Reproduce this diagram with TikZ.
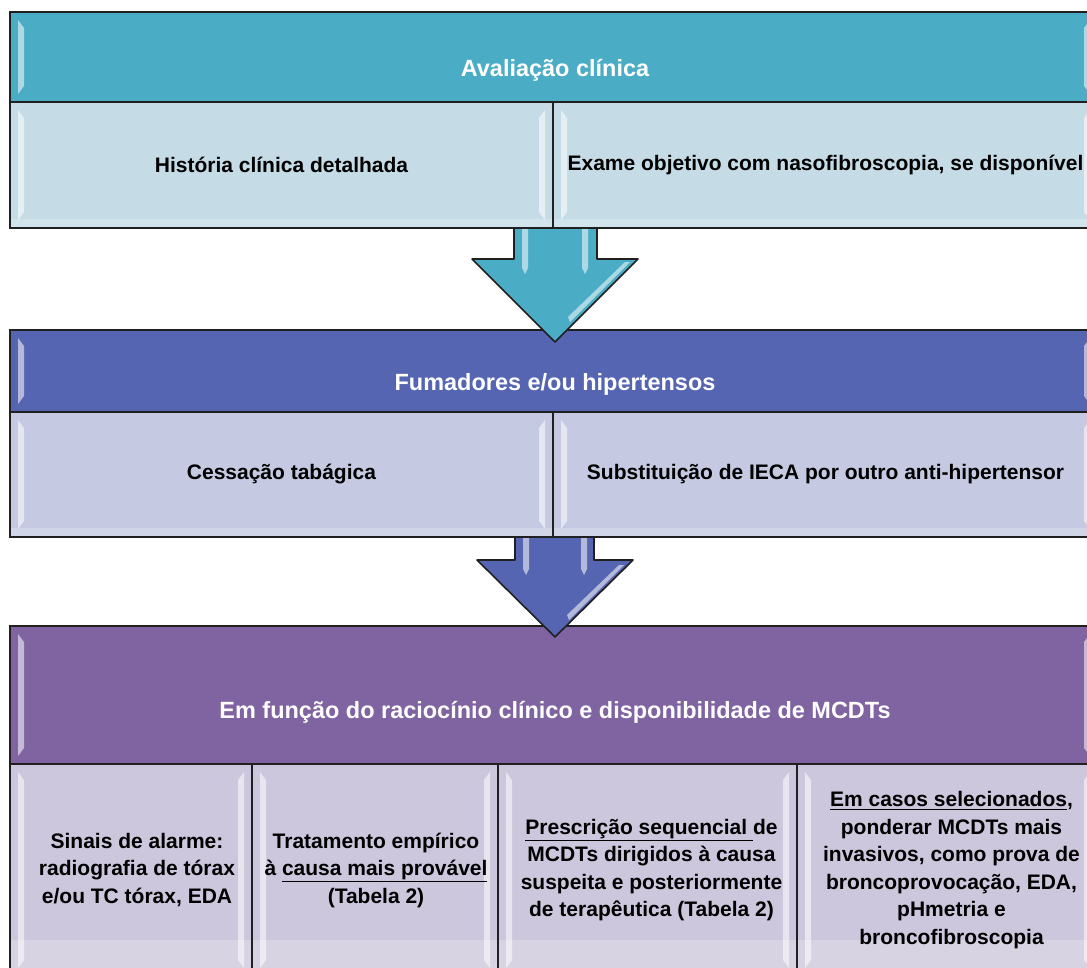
\documentclass[tikz,border=0pt]{standalone}
\usepackage{fontspec}
\setmainfont{Liberation Sans}
\usetikzlibrary{fit,calc}
\definecolor{hdrA}{HTML}{4BACC6}
\definecolor{bodyA}{HTML}{C5DCE6}
\definecolor{hdrB}{HTML}{5665B1}
\definecolor{bodyB}{HTML}{C5CAE2}
\definecolor{hdrC}{HTML}{8064A2}
\definecolor{bodyC}{HTML}{CCC7DC}
\definecolor{edge}{HTML}{202020}
% bevel strips: x1 y1 x2 y2 (pixel values, y downward)
\newcommand\bevstrips[4]{%
  \fill[shine] ({#1+8},{-(#2+8)}) -- ({#1+14},{-(#2+16)}) -- ({#1+14},{-(#4-16)}) -- ({#1+8},{-(#4-8)}) -- cycle;
  \fill[shine] ({#3-8},{-(#2+8)}) -- ({#3-14},{-(#2+16)}) -- ({#3-14},{-(#4-16)}) -- ({#3-8},{-(#4-8)}) -- cycle;}
\begin{document}
\begin{tikzpicture}[x=0.75pt,y=0.75pt,
  box/.style={draw=edge, line width=1.2pt, inner sep=0pt, outer sep=0pt},
  hdrtxt/.style={text=white, font=\bfseries\fontsize{17.6}{21}\selectfont},
  bodytxt/.style={text=black, font=\bfseries\fontsize{15.75}{20.6}\selectfont, align=center, inner sep=0pt},
  blockarrow/.style={draw=edge, line width=1.2pt, line join=round},
  shine/.style={fill=white, opacity=0.55},
  band/.style={fill=white, opacity=0.22}]
\useasboundingbox (0,0) rectangle (1087,-967);
\clip (0,0) rectangle (1087,-967);

% ---------- block 1 ----------
\node[box, fill=hdrA, fit={(10,-12)(1098,-102)}] (h1) {};
\node[box, fill=bodyA, fit={(10,-102)(553,-228)}] (b11) {};
\node[box, fill=bodyA, fit={(553,-102)(1098,-228)}] (b12) {};
\bevstrips{10}{12}{1098}{102}
\bevstrips{10}{102}{553}{228}
\bevstrips{553}{102}{1098}{228}
\fill[band] (11,-219) rectangle (552,-227);
\fill[band] (554,-219) rectangle (1097,-227);
\node[hdrtxt] (t1) at (555,-70) {Avaliação clínica};
\node[bodytxt] (x11) at (b11) {História clínica detalhada};
\node[bodytxt] (x12) at (b12) {Exame objetivo com nasofibroscopia, se disponível};

% ---------- block 2 ----------
\node[box, fill=hdrB, fit={(10,-330)(1098,-412)}] (h2) {};
\node[box, fill=bodyB, fit={(10,-412)(553,-537)}] (b21) {};
\node[box, fill=bodyB, fit={(553,-412)(1098,-537)}] (b22) {};
\bevstrips{10}{330}{1098}{412}
\bevstrips{10}{412}{553}{537}
\bevstrips{553}{412}{1098}{537}
\fill[band] (11,-528) rectangle (552,-536);
\fill[band] (554,-528) rectangle (1097,-536);
\node[hdrtxt] (t2) at (555,-384) {Fumadores e/ou hipertensos};
\node[bodytxt] (x21) at (b21) {Cessação tabágica};
\node[bodytxt] (x22) at (b22) {Substituição de IECA por outro anti-hipertensor};

% ---------- block 3 ----------
\node[box, fill=hdrC, fit={(10,-626)(1098,-764)}] (h3) {};
\node[box, fill=bodyC, fit={(10,-764)(252,-976)}] (b31) {};
\node[box, fill=bodyC, fit={(252,-764)(498,-976)}] (b32) {};
\node[box, fill=bodyC, fit={(498,-764)(797,-976)}] (b33) {};
\node[box, fill=bodyC, fit={(797,-764)(1098,-976)}] (b34) {};
\bevstrips{10}{626}{1098}{764}
\bevstrips{10}{764}{252}{976}
\bevstrips{252}{764}{498}{976}
\bevstrips{498}{764}{797}{976}
\bevstrips{797}{764}{1098}{976}
\fill[band] (11,-940) rectangle (251,-975);
\fill[band] (253,-940) rectangle (497,-975);
\fill[band] (499,-940) rectangle (796,-975);
\fill[band] (798,-940) rectangle (1097,-975);
\node[hdrtxt] (t3) at (555,-712) {Em função do raciocínio clínico e disponibilidade de MCDTs};
\node[bodytxt] (x31) at ($(b31)+(6,0)$) {Sinais de alarme:\\radiografia de tórax\\e/ou TC tórax, EDA};
\node[bodytxt] (x32) at ($(b32)+(1,0)$) {Tratamento empírico\\à \underline{causa mais provável}\\(Tabela 2)};
\node[bodytxt] (x33) at ($(b33)+(4,0)$) {\underline{Prescrição sequencial }de\\MCDTs dirigidos à causa\\suspeita e posteriormente\\de terapêutica (Tabela 2)};
\node[bodytxt] (x34) at ($(b34)+(4,0)$) {\underline{Em casos selecionados},\\ponderar MCDTs mais\\invasivos, como prova de\\broncoprovocação, EDA,\\pHmetria e\\broncofibroscopia};

% ---------- arrow 1 ----------
\draw[blockarrow, fill=hdrA] ($(b11.south east)+(-39,0)$) -- ++(0,-31) -- ++(-42,0)
  -- ++(83,-83) -- ++(83,83) -- ++(-41,0) -- ++(0,31) -- cycle;
\begin{scope}[shift={(b11.south east)}]
  \fill[shine] (-31,-1) -- (-25,-1) -- (-25,-40) -- (-28,-46) -- (-31,-40) -- cycle;
  \fill[shine] (29,-1) -- (35,-1) -- (35,-40) -- (32,-46) -- (29,-40) -- cycle;
  \fill[shine] (72,-34) -- (77,-34) -- (17,-94) -- (15,-89) -- cycle;
\end{scope}

% ---------- arrow 2 ----------
\draw[blockarrow, fill=hdrB] ($(b21.south east)+(-38,0)$) -- ++(0,-23) -- ++(-38,0)
  -- ++(78,-77) -- ++(78,77) -- ++(-39,0) -- ++(0,23) -- cycle;
\begin{scope}[shift={(b21.south east)}]
  \fill[shine] (-30,-1) -- (-24,-1) -- (-24,-32) -- (-27,-38) -- (-30,-32) -- cycle;
  \fill[shine] (28,-1) -- (34,-1) -- (34,-32) -- (31,-38) -- (28,-32) -- cycle;
  \fill[shine] (66,-28) -- (71,-28) -- (16,-83) -- (14,-78) -- cycle;
\end{scope}
\end{tikzpicture}
\end{document}
